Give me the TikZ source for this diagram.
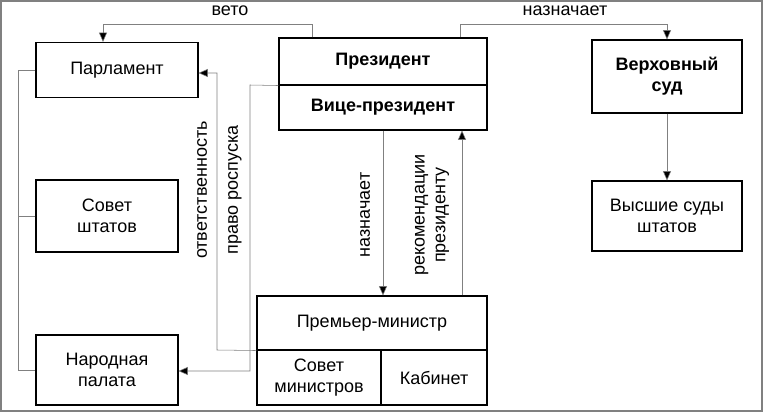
\documentclass[tikz,border=0pt]{standalone}
\usepackage{fontspec}
\setmainfont{Liberation Sans}
\usetikzlibrary{positioning,arrows.meta,calc}
\tikzstyle{box}=[draw, thick, inner sep=0pt, align=center, font=\fontsize{13.5}{15.5}\selectfont]
\tikzstyle{link}=[draw=gray, thin]
\tikzstyle{arrow}=[link, -{Triangle[length=7pt,width=6pt,fill=black]}]
\tikzstyle{lbl}=[font=\fontsize{13.5}{15.5}\selectfont, inner sep=1pt]

\begin{document}
\begin{tikzpicture}[x=0.75pt, y=-0.75pt]
        \useasboundingbox (0,0) rectangle (765,414);
        \draw[gray, thick] (1,1) rectangle (762,411);

        % блоки слева
        \node[box, minimum width=162*0.75pt, minimum height=55*0.75pt] (parl) at (117,70) {Парламент};
        \node[box, minimum width=142*0.75pt, minimum height=72*0.75pt] (sovet) at (107,216) {Совет\\штатов};
        \node[box, minimum width=142*0.75pt, minimum height=70*0.75pt] (palata) at (107,370) {Народная\\палата};

        % президент
        \node[box, font=\bfseries\fontsize{13.5}{15.5}\selectfont, minimum width=208*0.75pt, minimum height=47*0.75pt] (pres) at (383,61.5) {Президент};
        \node[box, font=\bfseries\fontsize{13.5}{15.5}\selectfont, minimum width=208*0.75pt, minimum height=45*0.75pt] (vice) at (383,107.5) {Вице-президент};

        % суды
        \node[box, font=\bfseries\fontsize{13.5}{15.5}\selectfont, minimum width=150*0.75pt, minimum height=73*0.75pt] (supreme) at (667,76.5) {Верховный\\суд};
        \node[box, minimum width=150*0.75pt, minimum height=70*0.75pt] (courts) at (667,216) {Высшие суды\\штатов};

        % премьер-министр
        \node[box, minimum width=230*0.75pt, minimum height=54*0.75pt] (pm) at (372,323) {Премьер-министр};
        \node[box, minimum width=124*0.75pt, minimum height=55*0.75pt] (council) at (319,377.5) {Совет\\министров};
        \node[box, minimum width=106*0.75pt, minimum height=55*0.75pt] (cabinet) at (434,377.5) {Кабинет};

        % вспомогательные точки
        \coordinate (vetoA) at (312,24);
        \coordinate (vetoB) at (103,24);
        \coordinate (appA) at (460,24);
        \coordinate (appB) at (667,24);
        \coordinate (rightA) at (217,350);
        \coordinate (rightB) at (217,73);
        \coordinate (dissA) at (250,85);
        \coordinate (dissB) at (250,371);
        \coordinate (brace) at (18,70);
        \coordinate (recA) at (462,296);

        % вето и назначение
        \draw[arrow] (pres.north -| vetoA) -- (vetoA) -- (vetoB) -- (vetoB |- parl.north);
        \node[lbl] (veto) at (230,11) {вето};
        \draw[arrow] (pres.north -| appA) -- (appA) -- (appB) -- (supreme.north);
        \node[lbl] (appoint) at (565,11) {назначает};
        \draw[arrow] (supreme.south) -- (courts.north);

        % парламент
        \draw[link] (parl.west) -- (brace) -- (brace |- palata.west) -- (palata.west);
        \draw[link] (sovet.west) -- (brace |- sovet.west);

        % ответственность и роспуск
        \draw[arrow] (pm.south west) -- (rightA) -- (rightB) -- (rightB -| parl.east);
        \node[lbl, rotate=90] (resp) at (202,190) {ответственность};
        \draw[arrow] (pres.south west) -- (dissA) -- (dissB) -- (dissB -| palata.east);
        \node[lbl, rotate=90] (diss) at (235,190) {право роспуска};

        % назначение и рекомендации
        \draw[arrow] (vice.south) -- (vice.south |- pm.north);
        \node[lbl, rotate=90] (appoint2) at (365,215) {назначает};
        \draw[arrow] (recA |- pm.north) -- (recA |- vice.south);
        \node[lbl, rotate=90, align=center] (recom) at (432,215) {рекомендации\\президенту};
\end{tikzpicture}
\end{document}
